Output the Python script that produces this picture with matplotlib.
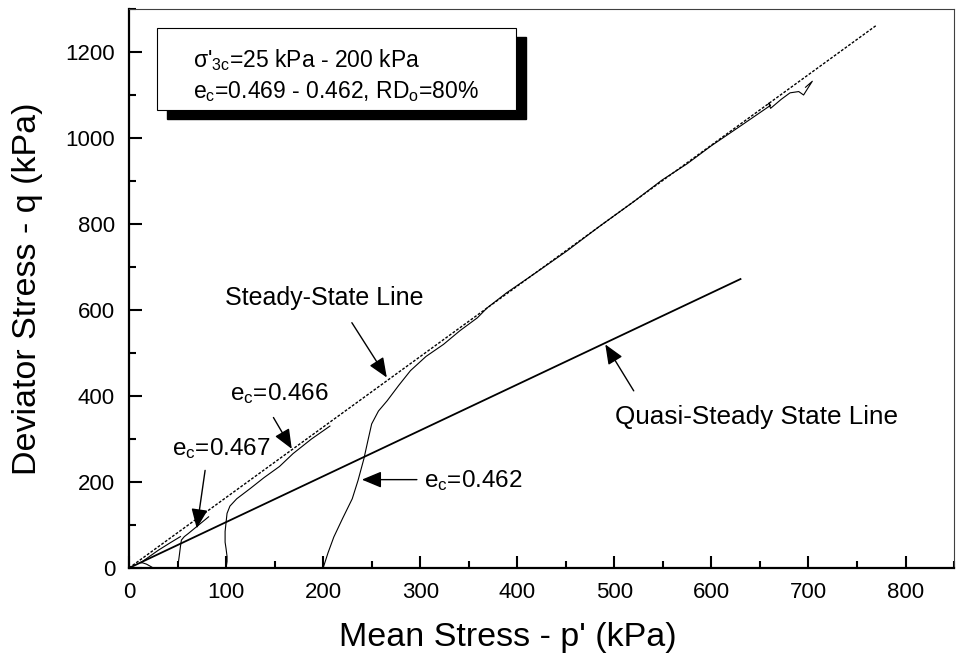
import matplotlib.pyplot as plt
from matplotlib.patches import Rectangle
from matplotlib.ticker import MultipleLocator

plt.rcParams['font.family'] = ['Liberation Sans', 'DejaVu Sans']
plt.rcParams['mathtext.fontset'] = 'custom'
plt.rcParams['mathtext.rm'] = 'Liberation Sans'
plt.rcParams['mathtext.it'] = 'Liberation Sans'

# steady-state and quasi-steady state lines (p', q in kPa)
ssl_p = [0, 770]
ssl_q = [0, 1262]
qssl_p = [0, 630]
qssl_q = [0, 672]

# effective stress paths, one per consolidation pressure
p_25 = [25, 22, 18, 14, 12, 20, 30, 42, 53]
q_25 = [0, 4, 9, 12, 12, 25, 41, 58, 73]

p_50 = [50, 51, 52, 53, 54, 57, 61, 68, 75, 82]
q_50 = [0, 15, 32, 50, 65, 73, 80, 93, 106, 119]

p_100 = [100, 101, 101, 100, 99, 99, 101, 104, 111, 125, 139, 155, 169, 188, 207]
q_100 = [0, 15, 27, 45, 60, 85, 127, 144, 161, 185, 210, 236, 266, 300, 330]

p_200 = [200, 205, 211, 220, 230, 236, 242, 246, 250, 257, 266, 278, 290, 306, 324, 341,
         359, 369, 389, 420, 451, 485, 520, 549, 575, 600, 630, 661, 659, 661, 672, 681,
         690, 695, 700, 704, 697]
q_200 = [0, 35, 72, 115, 161, 204, 254, 295, 335, 365, 389, 425, 459, 492, 520, 552,
         582, 605, 640, 688, 737, 795, 852, 902, 940, 982, 1028, 1076, 1081, 1069, 1090, 1105,
         1108, 1100, 1118, 1132, 1118]

fig = plt.figure(figsize=(9.57, 6.62), dpi=100)
ax = fig.add_axes([0.1348, 0.1420, 0.8621, 0.8444])

ax.plot(ssl_p, ssl_q, color='k', lw=1.0, ls=(0, (2, 1.2)))
ax.plot(qssl_p, qssl_q, color='k', lw=1.3)
for p, q in [(p_25, q_25), (p_50, q_50), (p_100, q_100), (p_200, q_200)]:
    ax.plot(p, q, color='k', lw=0.8)

ax.set_xlim(0, 850)
ax.set_ylim(0, 1300)
ax.xaxis.set_major_locator(MultipleLocator(100))
ax.xaxis.set_minor_locator(MultipleLocator(50))
ax.yaxis.set_major_locator(MultipleLocator(200))
ax.yaxis.set_minor_locator(MultipleLocator(100))
ax.tick_params(which='both', direction='in', top=False, right=False, width=1.5,
               labelsize=16, pad=10)
ax.tick_params(which='major', length=9)
ax.tick_params(which='minor', length=5)
for s in ['left', 'bottom']:
    ax.spines[s].set_linewidth(1.6)
for s in ['top', 'right']:
    ax.spines[s].set_linewidth(0.8)
    ax.spines[s].set_color('0.25')

ax.set_xlabel("Mean Stress - p' (kPa)", fontsize=24.5)
ax.set_ylabel("Deviator Stress - q (kPa)", fontsize=24.5)
ax.xaxis.set_label_coords(0.459, -0.097)
ax.yaxis.set_label_coords(-0.104, 0.5)

arrow = dict(arrowstyle='-|>,head_length=0.6,head_width=0.25', color='k', lw=1.0,
             mutation_scale=20, shrinkA=0, shrinkB=0)
ax.annotate('', xy=(265.6, 443), xytext=(229.6, 570.5), arrowprops=arrow)
ax.text(303, 627, 'Steady-State Line', fontsize=18, ha='right', va='center')

ax.annotate('', xy=(167.7, 277), xytext=(148.8, 350), arrowprops=arrow)
ax.text(154.6, 405, '$\\mathrm{e_c}$=0.466', fontsize=17.5, ha='center', va='center')

ax.annotate('', xy=(69.8, 92), xytext=(78.4, 227), arrowprops=arrow)
ax.text(94.8, 278, '$\\mathrm{e_c}$=0.467', fontsize=17.5, ha='center', va='center')

ax.annotate('', xy=(239.9, 205.5), xytext=(296.6, 205.5), arrowprops=arrow)
ax.text(355, 204, '$\\mathrm{e_c}$=0.462', fontsize=17.5, ha='center', va='center')

ax.annotate('', xy=(490.7, 520), xytext=(520, 412), arrowprops=arrow)
ax.text(646, 350, 'Quasi-Steady State Line', fontsize=18.8, ha='center', va='center')

# boxed test conditions with a drop shadow
bx, by, bw, bh = 0.0336, 0.8193, 0.4354, 0.1462
ax.add_patch(Rectangle((bx + 0.0121, by - 0.0161), bw, bh, transform=ax.transAxes,
                       facecolor='k', edgecolor='k', zorder=4))
ax.add_patch(Rectangle((bx, by), bw, bh, transform=ax.transAxes,
                       facecolor='white', edgecolor='k', lw=0.8, zorder=5))
ax.text(0.078, 0.909, "σ$'_{\\mathrm{3c}}$=25 kPa - 200 kPa", transform=ax.transAxes,
        fontsize=16.5, va='center', zorder=6)
ax.text(0.078, 0.852, '$\\mathrm{e_c}$=0.469 - 0.462, RD$_\\mathrm{o}$=80%',
        transform=ax.transAxes, fontsize=16.5, va='center', zorder=6)

fig.savefig('out.png', dpi=100)
